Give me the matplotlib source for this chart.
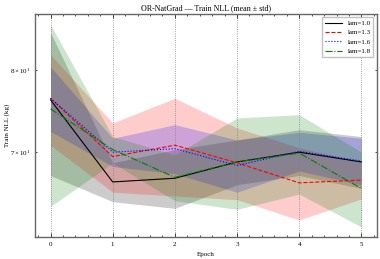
"""Train NLL per epoch for several lam values (mean +/- std band)."""
import numpy as np
import matplotlib
matplotlib.use('Agg')
import matplotlib.pyplot as plt
from matplotlib.ticker import MultipleLocator

plt.rcParams.update({
    'font.family': 'serif', 'font.serif': ['Liberation Serif', 'DejaVu Serif'],
    'mathtext.fontset': 'stix', 'font.size': 5,
    'xtick.direction': 'in', 'ytick.direction': 'in',
    'xtick.top': True, 'ytick.right': True,
    'xtick.major.size': 3, 'ytick.major.size': 3,
    'xtick.minor.size': 1.5, 'ytick.minor.size': 1.5,
    'xtick.major.width': 0.5, 'ytick.major.width': 0.5,
    'xtick.minor.width': 0.5, 'ytick.minor.width': 0.5,
    'axes.linewidth': 1.0,
})

epochs = [0, 1, 2, 3, 4, 5]
labels = ['lam=1.0', 'lam=1.3', 'lam=1.6', 'lam=1.8']
colors = ['black', 'red', 'blue', 'green']
styles = ['-', '--', ':', '-.']

mean_10 = [76.2, 66.7, 67.1, 68.9, 70.0, 68.9]
std_10 = [8.8, 2.1, 3.2, 2.5, 2.6, 2.9]
mean_13 = [76.4, 69.5, 70.8, 68.8, 66.6, 66.9]
std_13 = [5.6, 3.9, 5.6, 4.0, 3.9, 2.0]
mean_16 = [76.4, 70.0, 70.4, 68.5, 70.1, 69.0]
std_16 = [4.0, 1.6, 2.8, 2.9, 2.2, 2.6]
mean_18 = [75.1, 70.3, 67.2, 68.9, 69.9, 66.0]
std_18 = [11.0, 1.5, 2.5, 5.1, 4.5, 4.0]

means = [mean_10, mean_13, mean_16, mean_18]
stds = [std_10, std_13, std_16, std_18]

fig = plt.figure(figsize=(3.8, 2.59), dpi=100)
ax = fig.add_axes([0.092, 0.085, 0.9, 0.861])

x = np.array(epochs)
for m, s, c, ls, lab in zip(means, stds, colors, styles, labels):
    m = np.array(m)
    s = np.array(s)
    ax.plot(x, m, color=c, linestyle=ls, linewidth=0.8, label=lab)
    ax.fill_between(x, m - s, m + s, color=c, alpha=0.2, linewidth=0)

ax.set_yscale('log')
ax.set_ylim(61.0, 87.6)
ax.xaxis.set_minor_locator(MultipleLocator(0.2))
ax.grid(True, which='major', linestyle=':', color='gray', linewidth=0.6)
for sp in ax.spines.values():
    sp.set_color('#666666')

ax.set_title('OR-NatGrad — Train NLL (mean ± std)', fontsize=5.8, pad=3)
ax.set_xlabel('Epoch', fontsize=5)
ax.set_ylabel('Train NLL (kg)', fontsize=5)
ax.yaxis.set_label_coords(-0.072, 0.5)
ax.legend(loc='upper right', fontsize=5, frameon=True, fancybox=False,
          edgecolor='#bbbbbb', framealpha=0.9, handlelength=2.5)

plt.savefig('out.png', dpi=100)
plt.close()
